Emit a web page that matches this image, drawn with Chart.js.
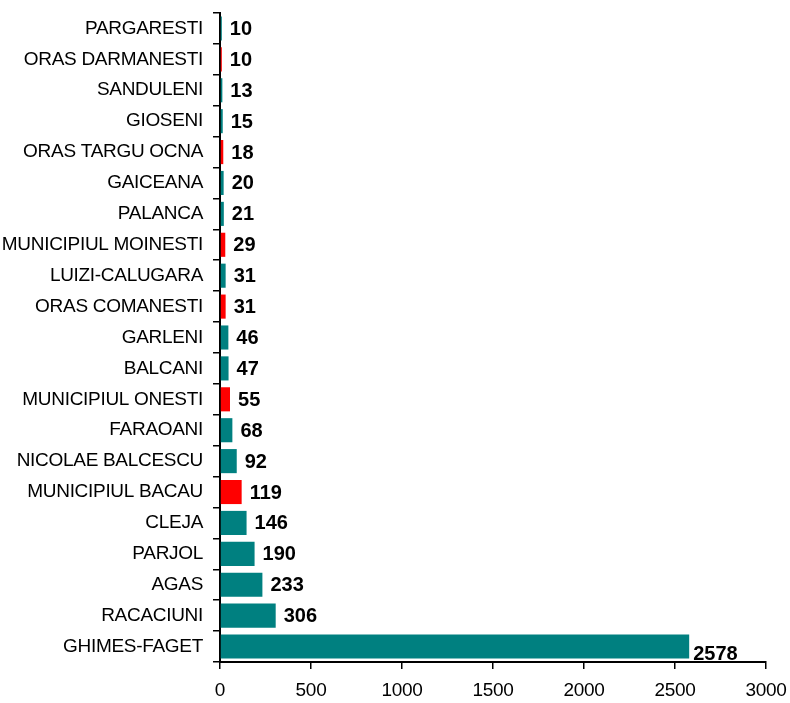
<!DOCTYPE html>
<html>
<head>
<meta charset="utf-8">
<script src="https://cdn.jsdelivr.net/npm/chart.js@4/dist/chart.umd.min.js"></script>
<style>
html,body{margin:0;padding:0;background:#fff;}
#wrap{width:790px;height:703px;position:relative;}
</style>
</head>
<body>
<div id="wrap"><canvas id="c" width="790" height="703"></canvas></div>
<script>
const categories = ["PARGARESTI","ORAS DARMANESTI","SANDULENI","GIOSENI","ORAS TARGU OCNA","GAICEANA","PALANCA","MUNICIPIUL MOINESTI","LUIZI-CALUGARA","ORAS COMANESTI","GARLENI","BALCANI","MUNICIPIUL ONESTI","FARAOANI","NICOLAE BALCESCU","MUNICIPIUL BACAU","CLEJA","PARJOL","AGAS","RACACIUNI","GHIMES-FAGET"];
const values = [10,10,13,15,18,20,21,29,31,31,46,47,55,68,92,119,146,190,233,306,2578];
const urban = [false,true,false,false,true,false,false,true,false,true,false,false,true,false,false,true,false,false,false,false,false];
const xTicks = [0,500,1000,1500,2000,2500,3000];

const TEAL = "#008080", RED = "#FF0000";
const FONT = "'Liberation Sans', Arial, sans-serif";

const tightText = {
  id: 'tightText',
  beforeDraw(chart) { chart.ctx.letterSpacing = '-0.3px'; },
  afterDraw(chart) { chart.ctx.letterSpacing = '0px'; }
};

const valueLabels = {
  id: 'valueLabels',
  afterDatasetsDraw(chart) {
    const ctx = chart.ctx;
    const meta = chart.getDatasetMeta(0);
    const maxV = Math.max(...values);
    ctx.save();
    ctx.letterSpacing = '0px';
    ctx.font = "bold 20px " + FONT;
    ctx.fillStyle = "#000";
    ctx.textBaseline = "middle";
    ctx.textAlign = "left";
    meta.data.forEach((bar, i) => {
      let x = bar.x + 8, y = bar.y + 1;
      if (values[i] === maxV) { x = bar.x + 4; y = bar.y + 8; }
      ctx.fillText(String(values[i]), x, y);
    });
    ctx.restore();
  }
};

new Chart(document.getElementById('c'), {
  type: 'bar',
  data: {
    labels: categories,
    datasets: [{
      data: values,
      backgroundColor: urban.map(u => u ? RED : TEAL),
      borderWidth: 0,
      categoryPercentage: 1.0,
      barPercentage: 0.78
    }]
  },
  options: {
    indexAxis: 'y',
    responsive: false,
    animation: false,
    layout: { padding: { left: 0, right: 24, top: 13, bottom: 0 } },
    plugins: { legend: { display: false }, tooltip: { enabled: false } },
    scales: {
      y: {
        grid: { display: true, drawOnChartArea: false, drawTicks: true, tickLength: 7, color: '#000', lineWidth: 1.5, offset: true },
        border: { display: true, color: '#000', width: 2 },
        ticks: { color: '#000', font: { family: FONT, size: 19 }, padding: 10, autoSkip: false },
        afterFit(scale) { scale.width = 220; scale.paddingTop = 0; scale.paddingBottom = 0; }
      },
      x: {
        min: 0, max: 3000,
        grid: { display: true, drawOnChartArea: false, drawTicks: true, tickLength: 7, color: '#000', lineWidth: 1.5 },
        border: { display: true, color: '#000', width: 2 },
        afterBuildTicks(scale) { scale.ticks = xTicks.map(v => ({ value: v })); },
        ticks: { color: '#000', font: { family: FONT, size: 19 }, padding: 10, maxRotation: 0, callback: v => String(v) },
        afterFit(scale) { scale.height = 41; scale.paddingLeft = 0; scale.paddingRight = 0; }
      }
    }
  },
  plugins: [tightText, valueLabels]
});
</script>
</body>
</html>
